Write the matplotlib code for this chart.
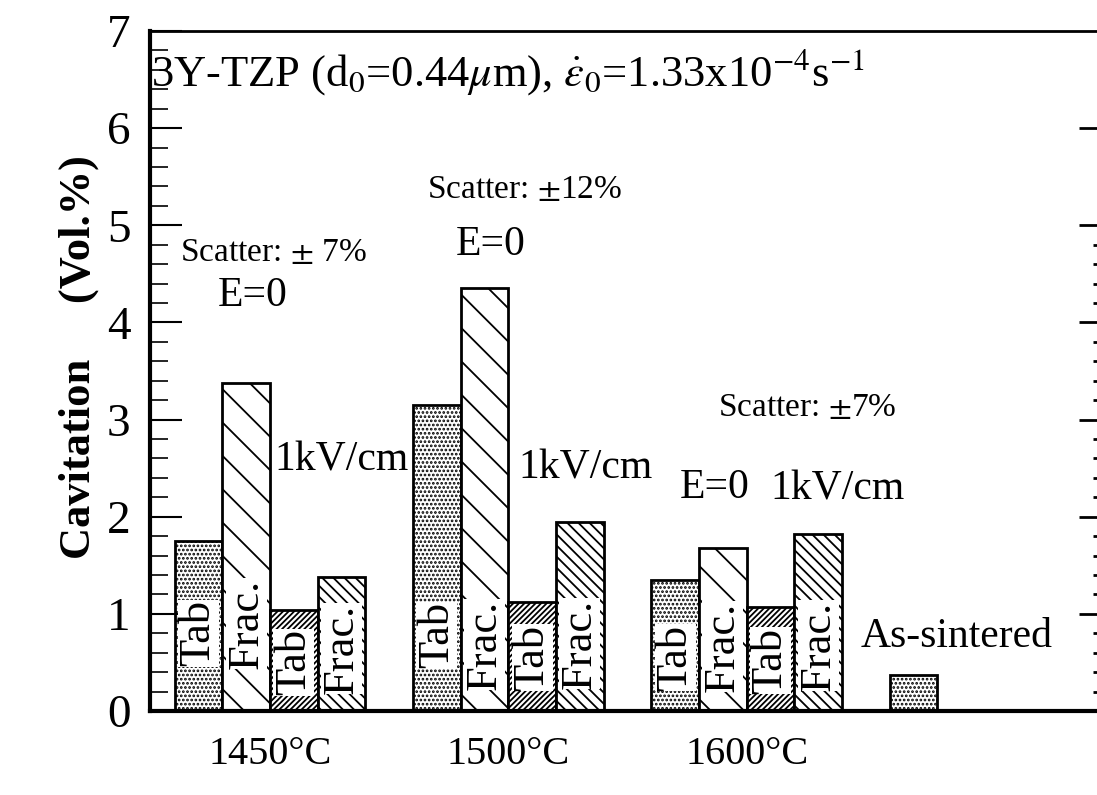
import numpy as np
import matplotlib
matplotlib.use("Agg")
import matplotlib.pyplot as plt
from matplotlib.ticker import MultipleLocator, FixedLocator

plt.rcParams['font.family'] = ['Liberation Serif', 'DejaVu Serif']
plt.rcParams['mathtext.fontset'] = 'stix'
plt.rcParams['hatch.linewidth'] = 1.3

# dati (Vol.%)
temperature = ['1450°C', '1500°C', '1600°C']
tab_e0 = [1.75, 3.15, 1.35]
frac_e0 = [3.38, 4.35, 1.68]
tab_1kv = [1.04, 1.12, 1.07]
frac_1kv = [1.38, 1.95, 1.82]
as_sintered = 0.37

fig = plt.figure(figsize=(10.97, 7.95), dpi=100)
ax = fig.add_axes([150 / 1097, 84 / 795, 947 / 1097, 680 / 795])

g = np.arange(len(temperature)) * 5
# (valori, tratteggio, etichetta, altezza del centro dell'etichetta)
serie = [(tab_e0, '....', 'Tab', [0.80, 0.78, 0.55]),
         (frac_e0, '\\', 'Frac.', [0.90, 0.68, 0.66]),
         (tab_1kv, '//////', 'Tab', [0.50, 0.55, 0.52]),
         (frac_1kv, '\\\\\\', 'Frac.', [0.64, 0.69, 0.67])]
for i, (vals, hatch, testo, ytxt) in enumerate(serie):
    x = g + i + 0.5
    ax.bar(x, vals, width=1.0, facecolor='white', edgecolor='black',
           linewidth=2, hatch=hatch)
    for xi, yt in zip(x, ytxt):
        ax.text(xi, yt, testo, rotation=90, ha='center', va='center',
                fontsize=32,
                bbox=dict(facecolor='white', edgecolor='none', pad=0.3))
ax.bar(15.5, as_sintered, width=1.0, facecolor='white', edgecolor='black',
       linewidth=2, hatch='....')

ax.set_xlim(-0.52, 19.35)
ax.set_ylim(0, 7)
ax.set_xticks(g + 2)
ax.set_xticklabels(temperature, fontsize=29)
ax.tick_params(axis='x', length=0, pad=18)

ax.yaxis.set_major_locator(MultipleLocator(1))
ax.yaxis.set_minor_locator(MultipleLocator(0.2))
ax.tick_params(axis='y', which='major', direction='in', length=23, width=1.5,
               labelsize=34, pad=14)
ax.tick_params(axis='y', which='minor', direction='in', length=13, width=1.2)
ax.set_ylabel('Cavitation     (Vol.%)', fontsize=32, fontweight='bold')
ax.yaxis.set_label_coords(-0.054, 0.52)

ax.spines['left'].set_linewidth(3)
ax.spines['bottom'].set_linewidth(3)
ax.spines['top'].set_linewidth(2)
ax.spines['right'].set_visible(False)

# tacche sul lato destro
ax2 = ax.twinx()
ax2.set_ylim(0, 7)
for s in ax2.spines.values():
    s.set_visible(False)
ax2.yaxis.set_major_locator(FixedLocator([1, 2, 3, 4, 5, 6]))
ax2.yaxis.set_minor_locator(FixedLocator(np.arange(0.2, 5.0, 0.2)))
ax2.tick_params(axis='y', which='major', direction='in', length=13, width=2,
                labelright=False)
ax2.tick_params(axis='y', which='minor', direction='in', length=3, width=2)

# annotazioni
ax.text(-0.5, 6.58, r'3Y-TZP (d$_0$=0.44$\mu$m), $\dot{\varepsilon}_0$=1.33x10$^{-4}$s$^{-1}$',
        fontsize=32, va='center')
ax.text(0.1, 4.72, r'Scatter: $\pm$ 7%', fontsize=24, va='center')
ax.text(0.9, 4.27, 'E=0', fontsize=30, va='center')
ax.text(5.3, 5.37, r'Scatter: $\pm$12%', fontsize=24, va='center')
ax.text(5.9, 4.80, 'E=0', fontsize=30, va='center')
ax.text(2.1, 2.58, '1kV/cm', fontsize=30, va='center')
ax.text(7.2, 2.50, '1kV/cm', fontsize=30, va='center')
ax.text(11.4, 3.12, r'Scatter: $\pm$7%', fontsize=24, va='center')
ax.text(10.6, 2.30, 'E=0', fontsize=30, va='center')
ax.text(12.5, 2.28, '1kV/cm', fontsize=30, va='center')
ax.text(14.4, 0.76, 'As-sintered', fontsize=30, va='center')

plt.savefig('out.png', dpi=100)
